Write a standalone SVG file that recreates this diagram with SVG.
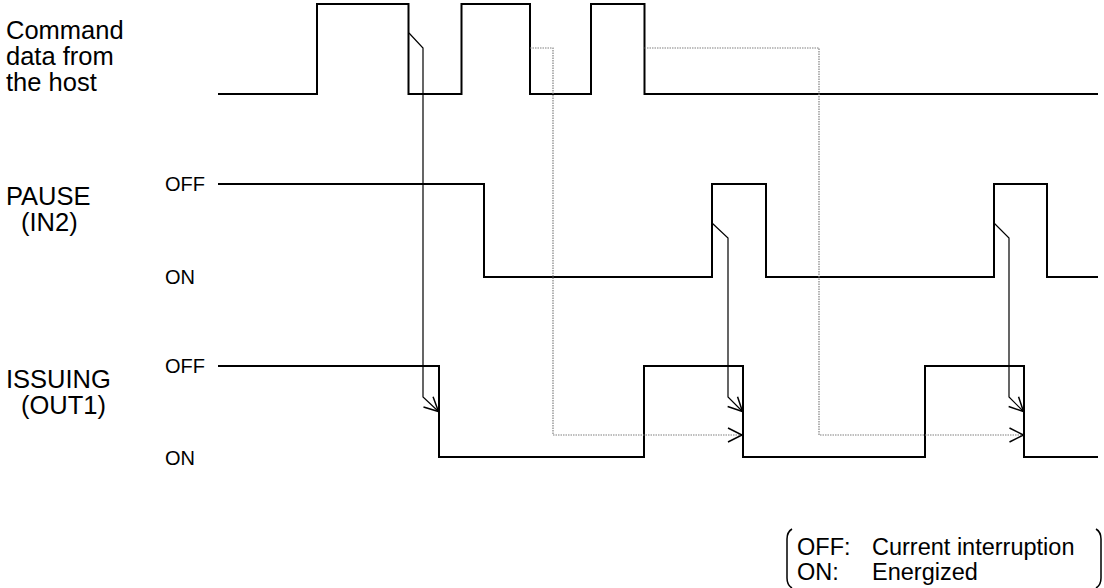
<svg xmlns="http://www.w3.org/2000/svg" width="1104" height="588" viewBox="0 0 1104 588">
  <style>
    text { font-family: "Liberation Sans", Arial, sans-serif; fill: #000; }
    .big { font-size: 25.5px; }
    .lvl { font-size: 20px; }
    .leg { font-size: 23.5px; }
    .sig { fill: none; stroke: #000; stroke-width: 2; stroke-linejoin: miter; }
    .con { fill: none; stroke: #000; stroke-width: 1.2; }
    .dot { fill: none; stroke: #808080; stroke-width: 1.2; stroke-dasharray: 1.5 1; }
    .brk { fill: none; stroke: #000; stroke-width: 1.5; }
  </style>
  <defs>
    <marker id="arr" markerUnits="userSpaceOnUse" markerWidth="16" markerHeight="16" refX="14" refY="7" orient="auto" overflow="visible">
      <path d="M0,0 L14,7 L0,14" fill="none" stroke="#000" stroke-width="1.5" stroke-dasharray="none"/>
    </marker>
  </defs>
  <rect width="1104" height="588" fill="#fff"/>

  <g id="command">
    <text class="big" x="6" y="39">Command</text>
    <text class="big" x="6" y="65">data from</text>
    <text class="big" x="6" y="91">the host</text>
    <path class="sig" d="M218,94 H317 V4 H408.5 V94 H461.5 V4 H530 V94 H591 V4 H644.5 V94 H1098"/>
  </g>

  <g id="pause">
    <text class="big" x="6" y="205">PAUSE</text>
    <text class="big" x="21" y="231">(IN2)</text>
    <text class="lvl" x="165" y="191">OFF</text>
    <text class="lvl" x="165" y="284">ON</text>
    <path class="sig" d="M218,184 H484 V277 H712 V184 H766 V277 H994 V184 H1047 V277 H1098"/>
  </g>

  <g id="issuing">
    <text class="big" x="6" y="388">ISSUING</text>
    <text class="big" x="21" y="414">(OUT1)</text>
    <text class="lvl" x="165" y="373">OFF</text>
    <text class="lvl" x="165" y="465">ON</text>
    <path class="sig" d="M218,366 H439 V457 H644 V366 H743 V457 H925 V366 H1024 V457 H1098"/>
  </g>

  <g id="connectors">
    <path class="con" d="M409,33 L423,48 V397 L438.5,411.5" marker-end="url(#arr)"/>
    <path class="con" d="M712,223 L728,238 V397 L742.5,411.5" marker-end="url(#arr)"/>
    <path class="con" d="M994,223 L1009,238 V397 L1023.5,411.5" marker-end="url(#arr)"/>
    <path class="dot" d="M530,48 H553 V435 H742" marker-end="url(#arr)"/>
    <path class="dot" d="M644.5,48 H819 V435 H1023.5" marker-end="url(#arr)"/>
  </g>

  <g id="legend">
    <path class="brk" d="M792,529 Q787,532 787,539 V578 Q787,585 792,588"/>
    <path class="brk" d="M1096,529 Q1101,532 1101,539 V578 Q1101,585 1096,588"/>
    <text class="leg" x="797" y="555">OFF:</text>
    <text class="leg" x="872" y="555">Current interruption</text>
    <text class="leg" x="797" y="580">ON:</text>
    <text class="leg" x="872" y="580">Energized</text>
  </g>
</svg>
